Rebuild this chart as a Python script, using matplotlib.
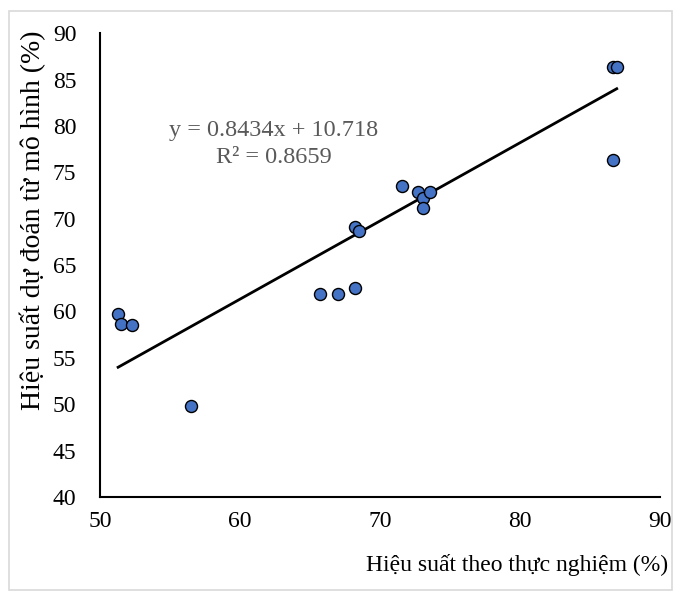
import matplotlib.pyplot as plt
import numpy as np
from matplotlib.patches import Rectangle

plt.rcParams['font.family'] = ['Liberation Serif', 'DejaVu Serif']

thuc_nghiem = [51.3, 51.5, 52.3, 56.5, 65.7, 67.0, 68.2, 68.2, 68.5,
               71.6, 72.7, 73.1, 73.6, 73.1, 86.6, 86.9, 86.6]
du_doan = [59.7, 58.6, 58.5, 49.8, 61.9, 61.9, 62.5, 69.1, 68.7,
           73.5, 72.9, 72.2, 72.9, 71.1, 86.3, 86.3, 76.3]

slope = 0.8434
intercept = 10.718
r2 = 0.8659

fig = plt.figure(figsize=(6.75, 5.92), dpi=100)
ax = fig.add_axes([0.148, 0.1605, 0.830, 0.7835])

# outer chart border like Excel
fig.patches.append(Rectangle((9 / 675, 2 / 592), 663 / 675, 579 / 592,
                             transform=fig.transFigure, fill=False,
                             edgecolor='#d9d9d9', linewidth=1.2))

xs = np.array([min(thuc_nghiem), max(thuc_nghiem)])
ax.plot(xs, slope * xs + intercept, color='black', linewidth=2, zorder=2)
ax.scatter(thuc_nghiem, du_doan, s=75, color='#4472c4', edgecolor='black',
           linewidth=1.0, zorder=3)

ax.text(62.4, 79.5, 'y = %.4fx + %.3f' % (slope, intercept), fontsize=17.5,
        color='#595959', ha='center', va='center')
ax.text(62.4, 76.6, 'R² = %.4f' % r2, fontsize=17.5, color='#595959',
        ha='center', va='center')

ax.set_xlim(50, 90)
ax.set_ylim(40, 90)
ax.set_xticks(np.arange(50, 91, 10))
ax.set_yticks(np.arange(40, 91, 5))
ax.tick_params(length=0, labelsize=17, pad=10)
ax.tick_params(axis='y', pad=17)
ax.spines['top'].set_visible(False)
ax.spines['right'].set_visible(False)
ax.spines['left'].set_linewidth(1.5)
ax.spines['bottom'].set_linewidth(1.5)

fig.text(0.99, 0.045, 'Hiệu suất theo thực nghiệm (%)', fontsize=17,
         ha='right', va='center')
fig.text(0.049, 0.948, 'Hiệu suất dự đoán từ mô hình (%)', fontsize=20,
         rotation=90, ha='center', va='top')

fig.savefig('out.png', dpi=100)
